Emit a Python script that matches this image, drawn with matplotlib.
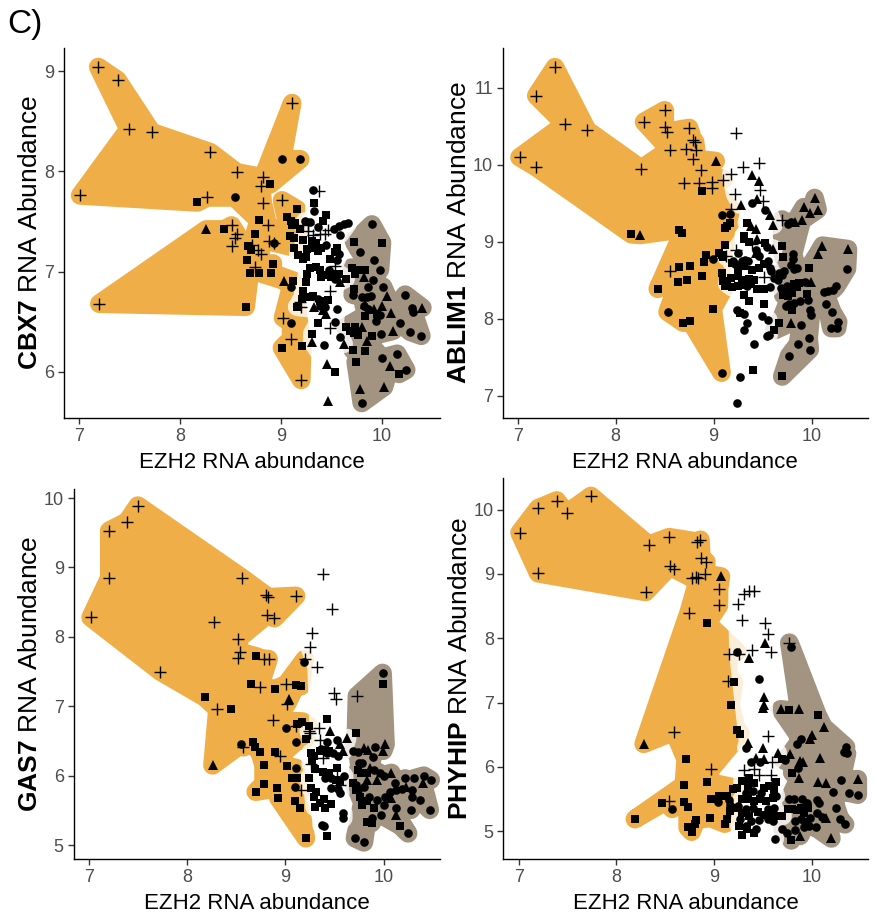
import numpy as np
import matplotlib
matplotlib.use("Agg")
import matplotlib.pyplot as plt
from matplotlib.patches import Polygon

plt.rcParams['font.family'] = ['Liberation Sans', 'DejaVu Sans']
plt.rcParams['mathtext.fontset'] = 'custom'
plt.rcParams['mathtext.rm'] = 'Liberation Sans'
plt.rcParams['mathtext.bf'] = 'Liberation Sans:bold'

# each sample: (EZH2 abundance, gene abundance, subtype marker)
# p = plus, s = square, o = circle, t = triangle
CBX7_LOW = [
    (7.19, 9.04, 'p'), (7.38, 8.91, 'p'), (7.49, 8.42, 'p'), (7.72, 8.39, 'p'), (8.30, 8.19, 'p'),
    (8.56, 7.99, 'p'), (8.82, 7.94, 'p'), (8.80, 7.85, 'p'), (8.89, 7.87, 's'), (7.01, 7.76, 'p'),
    (8.17, 7.69, 's'), (8.27, 7.74, 'p'), (8.54, 7.74, 'o'), (8.82, 7.68, 'p'), (8.78, 7.51, 's'),
    (8.87, 7.46, 'p'), (8.26, 7.42, 't'), (8.44, 7.42, 's'), (8.51, 7.46, 'p'), (8.74, 7.38, 's'),
    (8.56, 7.38, 'p'), (9.11, 8.68, 'p'), (9.01, 8.12, 'o'), (9.19, 8.12, 'o'), (9.01, 7.71, 'p'),
    (9.16, 7.62, 's'), (9.06, 7.54, 's'), (9.10, 7.50, 's'), (9.14, 7.48, 's'), (9.11, 7.46, 's'),
    (9.19, 7.42, 's'), (8.54, 7.34, 'p'), (8.51, 7.26, 'p'), (8.67, 7.26, 's'), (8.70, 7.22, 's'),
    (8.71, 7.27, 'p'), (8.77, 7.22, 'p'), (8.80, 7.18, 'p'), (8.88, 7.31, 'p'), (8.93, 7.29, 'p'),
    (8.93, 7.29, 'o'), (9.09, 7.36, 's'), (9.13, 7.34, 's'), (9.13, 7.24, 's'), (8.66, 7.12, 's'),
    (8.74, 7.05, 'p'), (8.69, 6.99, 's'), (8.78, 6.99, 's'), (8.90, 6.99, 's'), (8.92, 7.08, 's'),
    (9.03, 6.91, 't'), (9.12, 6.91, 's'), (9.10, 6.85, 'o'), (8.65, 6.65, 's'), (9.02, 6.54, 'p'),
    (9.10, 6.49, 'o'), (9.10, 6.33, 'p'), (9.01, 6.24, 's'), (9.21, 6.26, 's'), (9.20, 5.92, 'p'),
    (7.20, 6.68, 'p'),
]
CBX7_MID = [
    (9.32, 7.81, 'o'), (9.38, 7.80, 'p'), (9.33, 7.68, 's'), (9.33, 7.60, 'o'), (9.45, 7.56, 's'),
    (9.42, 7.50, 's'), (9.29, 7.49, 'o'), (9.24, 7.50, 'o'), (9.27, 7.47, 'p'), (9.22, 7.465, 'p'),
    (9.37, 7.44, 'o'), (9.27, 7.40, 'p'), (9.32, 7.37, 'p'), (9.39, 7.38, 'p'), (9.44, 7.38, 'p'),
    (9.47, 7.41, 'p'), (9.52, 7.42, 'o'), (9.57, 7.45, 'o'), (9.58, 7.37, 'o'), (9.66, 7.48, 'o'),
    (9.62, 7.47, 'o'), (9.31, 7.31, 's'), (9.22, 7.32, 's'), (9.35, 7.29, 's'), (9.40, 7.24, 's'),
    (9.34, 7.24, 's'), (9.37, 7.21, 's'), (9.26, 7.23, 's'), (9.17, 7.17, 's'), (9.25, 7.15, 's'),
    (9.22, 7.13, 's'), (9.45, 7.27, 'o'), (9.55, 7.24, 's'), (9.53, 7.20, 's'), (9.57, 7.18, 'o'),
    (9.55, 7.12, 'o'), (9.49, 7.13, 's'), (9.53, 7.06, 'p'), (9.29, 7.04, 's'), (9.26, 6.98, 's'),
    (9.35, 7.05, 's'), (9.39, 7.02, 's'), (9.40, 6.95, 's'), (9.43, 6.97, 's'), (9.47, 6.97, 's'),
    (9.50, 6.95, 's'), (9.53, 6.98, 's'), (9.48, 7.02, 'o'), (9.53, 6.93, 'o'), (9.57, 6.98, 's'),
    (9.64, 6.93, 's'), (9.58, 6.90, 't'), (9.25, 6.90, 's'), (9.22, 6.81, 's'), (9.49, 6.81, 'p'),
    (9.32, 6.76, 's'), (9.29, 6.75, 's'), (9.21, 6.73, 's'), (9.37, 6.73, 'o'), (9.39, 6.66, 'o'),
    (9.44, 6.65, 'o'), (9.19, 6.70, 'p'), (9.20, 6.65, 'p'), (9.16, 6.65, 's'), (9.33, 6.65, 't'),
    (9.42, 6.62, 't'), (9.45, 6.58, 't'), (9.39, 6.71, 's'), (9.47, 6.72, 's'), (9.55, 6.63, 'o'),
    (9.53, 6.50, 'o'), (9.37, 6.49, 's'), (9.49, 6.44, 'p'), (9.58, 6.35, 'o'), (9.31, 6.38, 's'),
    (9.31, 6.30, 't'), (9.43, 6.27, 'o'), (9.62, 6.28, 't'), (9.46, 6.08, 't'), (9.53, 6.00, 's'),
    (9.47, 5.71, 't'),
]
CBX7_HIGH = [
    (9.90, 7.47, 'o'), (9.72, 7.30, 's'), (10.00, 7.29, 's'), (9.78, 7.20, 'o'), (9.92, 7.12, 'o'),
    (9.70, 7.04, 's'), (9.75, 7.02, 's'), (9.83, 7.02, 's'), (9.73, 6.98, 's'), (9.98, 7.02, 'o'),
    (9.82, 6.95, 't'), (9.91, 6.92, 'o'), (9.72, 6.83, 's'), (9.86, 6.85, 'o'), (10.01, 6.85, 'o'),
    (9.71, 6.77, 'o'), (10.05, 6.76, 't'), (9.80, 6.75, 'o'), (9.85, 6.75, 'o'), (9.89, 6.76, 'o'),
    (10.23, 6.77, 'o'), (9.83, 6.68, 't'), (9.92, 6.63, 't'), (10.00, 6.66, 't'), (9.82, 6.66, 'o'),
    (9.86, 6.63, 'o'), (9.95, 6.58, 's'), (9.98, 6.57, 'o'), (10.09, 6.59, 't'), (10.30, 6.64, 'o'),
    (10.31, 6.60, 'o'), (10.40, 6.64, 't'), (9.83, 6.56, 's'), (9.94, 6.51, 'o'), (10.18, 6.49, 'o'),
    (9.64, 6.45, 's'), (9.68, 6.41, 's'), (9.72, 6.39, 's'), (9.73, 6.45, 's'), (9.80, 6.45, 't'),
    (9.76, 6.37, 's'), (9.90, 6.36, 's'), (9.85, 6.31, 't'), (9.99, 6.38, 'o'), (10.11, 6.41, 't'),
    (10.28, 6.40, 'o'), (10.39, 6.36, 'o'), (9.71, 6.22, 's'), (9.83, 6.21, 's'), (10.15, 6.18, 'o'),
    (10.00, 6.14, 'o'), (9.74, 6.10, 's'), (10.08, 6.06, 't'), (10.24, 6.02, 'o'), (10.17, 5.98, 's'),
    (9.78, 5.83, 't'), (10.02, 5.85, 't'), (9.80, 5.69, 'o'),
]

ABLIM1_LOW = [
    (7.38, 11.27, 'p'), (7.19, 10.90, 'p'), (7.48, 10.53, 'p'), (7.71, 10.45, 'p'), (7.02, 10.10, 'p'),
    (7.19, 9.97, 'p'), (8.29, 10.56, 'p'), (8.50, 10.71, 'p'), (8.50, 10.49, 'p'), (8.52, 10.43, 'p'),
    (8.75, 10.48, 'p'), (8.79, 10.32, 'p'), (8.81, 10.30, 'p'), (8.72, 10.21, 'p'), (8.82, 10.20, 'p'),
    (8.55, 10.20, 'p'), (8.79, 10.08, 'p'), (9.02, 10.05, 't'), (8.26, 9.95, 'p'), (8.87, 9.93, 'p'),
    (8.70, 9.77, 'p'), (8.85, 9.76, 'p'), (8.88, 9.66, 's'), (8.98, 9.78, 'p'), (8.98, 9.70, 'p'),
    (9.10, 9.81, 'p'), (9.08, 9.35, 'o'), (9.17, 9.36, 'o'), (9.18, 9.43, 'p'), (9.12, 9.18, 's'),
    (9.17, 9.24, 's'), (9.14, 9.20, 's'), (8.16, 9.10, 's'), (8.25, 9.09, 't'), (8.65, 9.16, 's'),
    (8.68, 9.11, 's'), (9.12, 8.96, 's'), (9.05, 8.85, 's'), (9.08, 8.83, 's'), (9.10, 8.80, 's'),
    (8.92, 8.83, 's'), (8.90, 8.74, 's'), (8.99, 8.78, 'o'), (8.65, 8.67, 's'), (8.76, 8.68, 's'),
    (8.55, 8.62, 'p'), (8.64, 8.48, 's'), (8.73, 8.50, 's'), (8.88, 8.55, 's'), (9.08, 8.59, 's'),
    (9.10, 8.49, 's'), (9.12, 8.43, 's'), (8.43, 8.39, 's'), (8.53, 8.09, 'o'), (8.99, 8.13, 's'),
    (8.69, 7.95, 's'), (8.76, 7.975, 's'), (9.08, 7.30, 'o'),
]
ABLIM1_MID = [
    (9.18, 9.88, 'p'), (9.22, 9.62, 'p'), (9.23, 10.42, 'p'), (9.30, 9.97, 'p'), (9.46, 10.03, 'p'),
    (9.39, 9.87, 't'), (9.46, 9.79, 't'), (9.47, 9.67, 'p'), (9.50, 9.53, 'p'), (9.44, 9.56, 't'),
    (9.39, 9.50, 'o'), (9.28, 9.48, 't'), (9.52, 9.41, 'o'), (9.57, 9.35, 't'), (9.61, 9.22, 't'),
    (9.34, 9.25, 's'), (9.38, 9.20, 't'), (9.43, 9.17, 't'), (9.31, 9.08, 's'), (9.31, 9.04, 's'),
    (9.39, 8.97, 'p'), (9.44, 9.04, 't'), (9.36, 9.00, 's'), (9.52, 8.99, 's'), (9.43, 8.90, 'o'),
    (9.44, 8.84, 'o'), (9.46, 8.81, 'o'), (9.43, 8.85, 't'), (9.61, 8.91, 't'), (9.23, 8.90, 'p'),
    (9.25, 8.85, 'o'), (9.54, 8.93, 'o'), (9.20, 8.75, 'o'), (9.22, 8.71, 'o'), (9.25, 8.69, 'o'),
    (9.29, 8.745, 'o'), (9.32, 8.77, 'o'), (9.35, 8.745, 'o'), (9.19, 8.72, 's'), (9.25, 8.65, 's'),
    (9.31, 8.69, 's'), (9.39, 8.64, 's'), (9.46, 8.66, 's'), (9.51, 8.71, 's'), (9.55, 8.75, 'o'),
    (9.57, 8.66, 'o'), (9.58, 8.62, 'o'), (9.51, 8.54, 'p'), (9.62, 8.53, 'o'), (9.18, 8.53, 's'),
    (9.25, 8.55, 's'), (9.29, 8.50, 's'), (9.36, 8.52, 's'), (9.41, 8.51, 's'), (9.14, 8.455, 's'),
    (9.19, 8.41, 's'), (9.25, 8.43, 's'), (9.32, 8.44, 's'), (9.38, 8.455, 's'), (9.29, 8.46, 'o'),
    (9.34, 8.43, 'o'), (9.57, 8.41, 'o'), (9.44, 8.39, 's'), (9.51, 8.385, 's'), (9.31, 8.31, 's'),
    (9.36, 8.23, 's'), (9.51, 8.195, 's'), (9.24, 8.12, 'o'), (9.31, 8.065, 'o'), (9.27, 8.08, 's'),
    (9.34, 7.95, 'o'), (9.49, 8.03, 'o'), (9.555, 7.99, 'o'), (9.31, 7.86, 'o'), (9.54, 7.78, 'o'),
    (9.56, 7.79, 'o'), (9.41, 7.67, 'o'), (9.40, 7.34, 's'), (9.27, 7.24, 'o'), (9.24, 6.90, 'o'),
    (9.13, 8.81, 'p'),
]
ABLIM1_HIGH = [
    (10.03, 9.57, 't'), (9.92, 9.45, 't'), (9.98, 9.37, 't'), (10.06, 9.42, 't'), (9.70, 9.29, 'p'),
    (9.76, 9.23, 'o'), (9.79, 9.26, 'o'), (9.83, 9.26, 't'), (9.90, 9.28, 't'), (9.70, 8.95, 's'),
    (9.81, 8.84, 'o'), (9.81, 8.775, 'o'), (9.71, 8.80, 's'), (10.11, 8.95, 't'), (10.06, 8.84, 't'),
    (10.37, 8.905, 't'), (10.36, 8.65, 'o'), (9.97, 8.66, 's'), (9.79, 8.70, 'o'), (9.82, 8.645, 'o'),
    (9.85, 8.66, 'o'), (9.67, 8.59, 'o'), (9.70, 8.57, 'o'), (9.72, 8.615, 'o'), (9.66, 8.51, 'o'),
    (9.93, 8.48, 'o'), (9.99, 8.48, 't'), (9.82, 8.455, 's'), (9.87, 8.47, 's'), (9.81, 8.41, 's'),
    (9.85, 8.41, 's'), (9.69, 8.40, 'o'), (9.72, 8.37, 'o'), (9.75, 8.42, 'o'), (9.71, 8.31, 's'),
    (9.76, 8.29, 's'), (9.80, 8.33, 's'), (9.71, 8.38, 's'), (9.95, 8.32, 's'), (9.96, 8.25, 'o'),
    (9.82, 8.21, 'o'), (9.88, 8.225, 'o'), (9.77, 8.195, 'o'), (9.74, 8.16, 'o'), (10.13, 8.35, 'o'),
    (10.17, 8.365, 'o'), (10.22, 8.38, 'o'), (10.25, 8.42, 'o'), (10.15, 8.195, 'o'), (10.21, 8.09, 'o'),
    (9.98, 8.11, 'o'), (9.99, 8.05, 'o'), (9.80, 8.11, 's'), (9.67, 7.94, 's'), (9.62, 7.85, 's'),
    (9.79, 7.95, 't'), (9.89, 7.92, 'o'), (9.97, 7.75, 'o'), (9.98, 7.60, 'o'), (9.86, 7.67, 'o'),
    (9.77, 7.52, 'o'), (10.20, 7.88, 'o'), (10.26, 7.88, 'o'), (10.27, 7.96, 'o'), (9.70, 7.25, 's'),
]

GAS7_LOW = [
    (7.50, 9.89, 'p'), (7.39, 9.66, 'p'), (7.21, 9.53, 'p'), (7.21, 8.85, 'p'), (7.02, 8.28, 'p'),
    (7.73, 7.50, 'p'), (8.28, 8.21, 'p'), (8.56, 8.85, 'p'), (8.80, 8.60, 'p'), (8.82, 8.57, 'p'),
    (9.11, 8.59, 'p'), (8.81, 8.31, 'p'), (8.89, 8.27, 'p'), (8.52, 7.97, 'p'), (8.54, 7.78, 'p'),
    (8.52, 7.69, 'p'), (8.70, 7.72, 's'), (8.78, 7.68, 'p'), (8.83, 7.68, 'p'), (9.20, 7.68, 'p'),
    (9.19, 7.64, 'o'), (8.65, 7.32, 's'), (8.74, 7.28, 'p'), (8.90, 7.25, 's'), (9.01, 7.32, 'p'),
    (9.11, 7.30, 's'), (9.16, 7.29, 's'), (8.18, 7.13, 's'), (8.31, 6.96, 'p'), (8.45, 6.96, 's'),
    (9.04, 7.10, 't'), (9.02, 7.04, 'p'), (8.88, 6.80, 'p'), (9.005, 6.68, 'o'), (9.11, 6.72, 'p'),
    (9.12, 6.75, 's'), (9.175, 6.78, 's'), (9.24, 6.72, 's'), (9.21, 6.53, 's'), (9.11, 6.49, 'o'),
    (8.55, 6.45, 'o'), (8.575, 6.41, 'p'), (8.67, 6.49, 's'), (8.69, 6.42, 's'), (8.74, 6.34, 's'),
    (8.90, 6.34, 's'), (8.95, 6.29, 'p'), (8.26, 6.15, 't'), (8.78, 6.15, 's'), (9.015, 6.14, 's'),
    (9.11, 6.11, 'o'), (9.07, 5.97, 's'), (9.12, 5.97, 's'), (9.10, 5.84, 'o'), (9.16, 5.80, 'p'),
    (8.78, 5.88, 's'), (8.70, 5.77, 's'), (8.92, 5.82, 's'), (8.93, 5.68, 's'), (9.10, 5.64, 's'),
    (9.155, 5.53, 's'), (9.21, 5.10, 's'),
]
GAS7_MID = [
    (9.38, 8.90, 'p'), (9.48, 8.40, 'p'), (9.27, 8.05, 'p'), (9.25, 7.85, 'p'), (9.32, 7.57, 'p'),
    (9.50, 7.19, 'p'), (9.52, 7.10, 'p'), (9.24, 6.64, 'p'), (9.42, 6.81, 's'), (9.34, 6.69, 'p'),
    (9.25, 6.61, 'p'), (9.35, 6.52, 'p'), (9.46, 6.64, 't'), (9.42, 6.49, 'o'), (9.53, 6.52, 'o'),
    (9.56, 6.46, 't'), (9.63, 6.54, 't'), (9.26, 6.33, 's'), (9.29, 6.28, 's'), (9.27, 6.23, 's'),
    (9.35, 6.35, 's'), (9.40, 6.37, 's'), (9.45, 6.36, 's'), (9.36, 6.38, 'o'), (9.42, 6.32, 'o'),
    (9.49, 6.32, 'o'), (9.54, 6.28, 'o'), (9.38, 6.25, 'p'), (9.26, 6.17, 'p'), (9.59, 6.36, 't'),
    (9.30, 6.09, 's'), (9.38, 6.05, 's'), (9.45, 6.04, 's'), (9.53, 6.11, 's'), (9.52, 5.94, 's'),
    (9.56, 5.93, 's'), (9.40, 5.96, 'o'), (9.47, 5.97, 'o'), (9.54, 5.81, 'o'), (9.47, 5.82, 'o'),
    (9.24, 5.96, 's'), (9.26, 5.82, 's'), (9.31, 5.77, 's'), (9.29, 5.70, 's'), (9.53, 5.98, 'p'),
    (9.56, 5.87, 'p'), (9.39, 5.66, 's'), (9.47, 5.59, 's'), (9.40, 5.53, 's'), (9.35, 5.60, 's'),
    (9.30, 5.55, 's'), (9.59, 5.46, 'o'), (9.59, 5.39, 'o'), (9.37, 5.29, 'o'), (9.39, 5.27, 'o'),
    (9.43, 5.13, 's'), (9.60, 5.99, 'o'), (9.56, 5.75, 'o'),
]
GAS7_HIGH = [
    (9.73, 7.15, 'p'), (9.99, 7.48, 'o'), (9.995, 7.32, 's'), (9.72, 6.61, 's'), (9.69, 6.36, 'o'),
    (9.74, 6.34, 'o'), (9.80, 6.40, 't'), (9.84, 6.37, 't'), (9.91, 6.42, 'o'), (10.02, 6.45, 't'),
    (9.89, 6.27, 'o'), (9.997, 6.36, 't'), (9.75, 6.19, 'o'), (9.78, 6.18, 'o'), (9.74, 6.08, 's'),
    (9.77, 6.04, 's'), (9.83, 6.04, 's'), (9.90, 6.08, 'o'), (9.96, 6.04, 'o'), (10.00, 6.00, 'o'),
    (9.86, 6.11, 't'), (10.08, 6.04, 't'), (9.83, 5.94, 't'), (9.93, 5.94, 't'), (9.72, 5.87, 'o'),
    (9.74, 5.80, 'o'), (9.80, 5.84, 'o'), (9.69, 5.89, 's'), (9.72, 5.80, 's'), (10.12, 5.89, 'o'),
    (10.22, 5.96, 'o'), (10.31, 5.96, 'o'), (10.23, 5.84, 't'), (10.40, 5.89, 't'), (10.41, 6.00, 'o'),
    (10.48, 5.94, 'o'), (9.76, 5.69, 's'), (9.83, 5.63, 's'), (9.90, 5.53, 's'), (9.78, 5.58, 's'),
    (9.85, 5.70, 'o'), (9.93, 5.65, 'o'), (10.02, 5.70, 'o'), (9.97, 5.44, 'o'), (9.88, 5.39, 'o'),
    (10.08, 5.68, 't'), (10.13, 5.44, 't'), (10.01, 5.58, 'o'), (10.13, 5.53, 'o'), (10.29, 5.70, 'o'),
    (10.28, 5.51, 'o'), (10.37, 5.65, 'o'), (10.47, 5.51, 'o'), (10.19, 5.81, 'o'), (10.29, 5.80, 'o'),
    (10.13, 5.80, 'o'), (10.07, 5.77, 'o'), (10.17, 5.28, 's'), (10.25, 5.17, 'o'), (9.83, 5.33, 's'),
    (9.88, 5.32, 's'), (9.71, 5.10, 'o'), (9.80, 5.04, 'o'),
]

PHYHIP_LOW = [
    (7.01, 9.64, 'p'), (7.20, 10.02, 'p'), (7.39, 10.14, 'p'), (7.49, 9.94, 'p'), (7.74, 10.21, 'p'),
    (7.20, 9.01, 'p'), (8.30, 8.72, 'p'), (8.33, 9.45, 'p'), (8.54, 9.57, 'p'), (8.83, 9.50, 'p'),
    (8.86, 9.53, 'p'), (8.55, 9.12, 'p'), (8.59, 9.08, 'p'), (8.87, 9.24, 'p'), (8.92, 9.19, 'p'),
    (8.77, 8.94, 'p'), (8.81, 8.95, 'p'), (8.84, 8.93, 'p'), (8.91, 9.00, 'p'), (9.07, 8.96, 't'),
    (9.05, 8.76, 'p'), (9.05, 8.51, 'p'), (8.74, 8.40, 'p'), (8.93, 8.235, 's'), (9.235, 7.79, 'o'),
    (9.15, 7.75, 'p'), (9.14, 7.33, 'p'), (9.20, 7.32, 's'), (9.17, 6.96, 's'), (8.59, 6.55, 'p'),
    (8.28, 6.36, 't'), (9.23, 6.57, 's'), (9.27, 6.52, 's'), (8.71, 6.12, 's'), (8.97, 5.97, 'p'),
    (8.93, 5.77, 's'), (8.69, 5.72, 's'), (8.47, 5.435, 's'), (8.69, 5.46, 's'), (8.73, 5.38, 's'),
    (8.54, 5.47, 'p'), (8.57, 5.35, 'o'), (8.97, 5.51, 's'), (9.05, 5.55, 's'), (9.13, 5.55, 's'),
    (9.19, 5.65, 's'), (9.23, 5.67, 's'), (9.04, 5.45, 'o'), (9.15, 5.48, 'o'), (9.16, 5.41, 'o'),
    (9.20, 5.37, 's'), (9.16, 5.32, 's'), (8.96, 5.21, 's'), (9.13, 5.19, 's'), (9.11, 5.12, 's'),
    (8.82, 5.18, 's'), (8.73, 5.06, 's'), (8.77, 4.995, 's'), (8.19, 5.19, 's'), (8.80, 5.12, 's'),
]
PHYHIP_MID = [
    (9.24, 8.53, 'p'), (9.25, 7.76, 'p'), (9.29, 8.29, 'p'), (9.31, 8.69, 'p'), (9.36, 8.73, 'p'),
    (9.41, 8.74, 'p'), (9.52, 8.24, 'p'), (9.55, 8.07, 'p'), (9.58, 7.79, 'p'), (9.36, 7.69, 't'),
    (9.39, 7.82, 'p'), (9.52, 7.92, 't'), (9.46, 7.36, 'o'), (9.51, 7.08, 't'), (9.50, 6.92, 't'),
    (9.51, 6.97, 't'), (9.55, 6.48, 'p'), (9.35, 6.38, 't'), (9.50, 6.30, 't'), (9.33, 6.30, 'o'),
    (9.43, 6.14, 't'), (9.51, 6.13, 't'), (9.65, 6.22, 't'), (9.38, 6.08, 'o'), (9.47, 6.08, 'o'),
    (9.59, 6.08, 'p'), (9.31, 5.96, 'p'), (9.41, 5.97, 'p'), (9.46, 5.87, 'p'), (9.58, 5.87, 'p'),
    (9.36, 5.83, 's'), (9.29, 5.78, 's'), (9.35, 5.70, 's'), (9.41, 5.745, 's'), (9.51, 5.68, 's'),
    (9.56, 5.70, 's'), (9.63, 5.77, 's'), (9.61, 5.64, 's'), (9.33, 5.60, 'o'), (9.40, 5.625, 'o'),
    (9.48, 5.60, 'o'), (9.63, 5.55, 'o'), (9.29, 5.50, 's'), (9.35, 5.51, 's'), (9.41, 5.47, 's'),
    (9.47, 5.50, 's'), (9.53, 5.47, 's'), (9.60, 5.52, 's'), (9.24, 5.39, 'o'), (9.33, 5.35, 'o'),
    (9.40, 5.37, 'o'), (9.55, 5.34, 'o'), (9.61, 5.37, 'o'), (9.29, 5.29, 's'), (9.36, 5.24, 's'),
    (9.45, 5.30, 's'), (9.51, 5.25, 's'), (9.58, 5.29, 's'), (9.63, 5.24, 's'), (9.70, 5.24, 's'),
    (9.27, 5.19, 'o'), (9.38, 5.16, 'o'), (9.46, 5.18, 'o'), (9.55, 5.19, 'o'), (9.60, 5.16, 'o'),
    (9.26, 5.08, 's'), (9.34, 5.03, 's'), (9.41, 4.98, 's'), (9.29, 4.95, 's'), (9.33, 5.08, 'o'),
    (9.43, 5.03, 'o'), (9.62, 4.88, 'o'),
]
PHYHIP_HIGH = [
    (9.77, 7.93, 'p'), (9.79, 7.86, 'o'), (9.68, 6.895, 't'), (9.87, 6.90, 't'), (9.77, 6.88, 's'),
    (10.06, 6.80, 's'), (10.12, 6.62, 't'), (10.00, 6.49, 't'), (9.98, 6.43, 't'), (9.89, 6.43, 'o'),
    (9.85, 6.35, 'o'), (10.35, 6.31, 'o'), (10.33, 6.23, 'o'), (10.36, 6.21, 'o'), (9.78, 6.20, 't'),
    (9.88, 6.09, 't'), (9.91, 6.08, 't'), (10.08, 6.14, 't'), (9.73, 6.11, 'o'), (9.86, 5.99, 'o'),
    (9.70, 6.12, 's'), (9.80, 5.91, 's'), (9.87, 5.83, 't'), (10.06, 5.77, 't'), (10.15, 5.75, 't'),
    (10.47, 5.81, 't'), (10.30, 5.79, 'o'), (10.22, 5.61, 'o'), (10.38, 5.60, 'o'), (10.47, 5.57, 'o'),
    (9.77, 5.51, 'o'), (9.82, 5.50, 'o'), (9.90, 5.50, 'o'), (9.95, 5.445, 'o'), (10.05, 5.49, 'o'),
    (10.07, 5.445, 'o'), (10.25, 5.37, 'o'), (9.76, 5.35, 's'), (9.80, 5.34, 's'), (9.85, 5.33, 's'),
    (9.89, 5.37, 's'), (9.96, 5.37, 's'), (9.92, 5.29, 's'), (10.05, 5.29, 'o'), (10.10, 5.23, 'o'),
    (9.985, 5.21, 'o'), (9.89, 5.19, 'o'), (9.83, 5.16, 'o'), (10.15, 5.21, 't'), (10.29, 5.19, 'o'),
    (10.34, 5.11, 'o'), (9.70, 5.04, 'o'), (9.75, 4.98, 'o'), (9.83, 5.02, 'o'), (9.92, 5.06, 'o'),
    (10.04, 5.06, 'o'), (9.88, 4.93, 't'), (10.20, 4.89, 't'), (9.79, 4.86, 's'), (9.93, 5.14, 'o'),
    (9.97, 5.08, 'o'),
]

GENES = ['CBX7', 'ABLIM1', 'GAS7', 'PHYHIP']
GROUPS = {
    'CBX7': (CBX7_LOW, CBX7_MID, CBX7_HIGH),
    'ABLIM1': (ABLIM1_LOW, ABLIM1_MID, ABLIM1_HIGH),
    'GAS7': (GAS7_LOW, GAS7_MID, GAS7_HIGH),
    'PHYHIP': (PHYHIP_LOW, PHYHIP_MID, PHYHIP_HIGH),
}
YTICKS = {
    'CBX7': [6, 7, 8, 9],
    'ABLIM1': [7, 8, 9, 10, 11],
    'GAS7': [5, 6, 7, 8, 9, 10],
    'PHYHIP': [5, 6, 7, 8, 9, 10],
}
XLIM = (6.845, 10.575)
YLIM = {
    'CBX7': (5.54, 9.23),
    'ABLIM1': (6.71, 11.52),
    'GAS7': (4.80, 10.13),
    'PHYHIP': (4.57, 10.49),
}
CONCAVITY = {'CBX7': 0.7, 'ABLIM1': 1.0, 'GAS7': 1.0, 'PHYHIP': 1.0}

HULL_COLORS = ['#EFAE47', '#FFFFFF', '#A39482']
MARKERS = {'p': ('+', 9.0), 's': ('s', 5.6), 'o': ('o', 6.2), 't': ('^', 7.0)}

W, H = 876, 914
# panel boxes in pixels: left, top, right, bottom
BOXES = {
    'CBX7': (63.5, 48, 440, 418),
    'ABLIM1': (502.5, 48, 868, 418),
    'GAS7': (73.5, 489, 440, 859),
    'PHYHIP': (503.5, 478, 868, 859),
}


def seg_d2(p, a, b):
    ab = b - a
    t = 0.0
    den = ab @ ab
    if den > 0:
        t = min(1.0, max(0.0, ((p - a) @ ab) / den))
    q = a + t * ab
    return float((p - q) @ (p - q))


def orient(a, b, c):
    return (b[0] - a[0]) * (c[1] - a[1]) - (b[1] - a[1]) * (c[0] - a[0])


def crosses(p1, q1, p2, q2):
    return ((orient(p1, q1, p2) > 0) != (orient(p1, q1, q2) > 0) and
            (orient(p2, q2, p1) > 0) != (orient(p2, q2, q1) > 0))


def concave_hull(pts, concavity=1.0):
    # concaveman-style digging, starting from the convex hull
    n = len(pts)
    order = sorted(range(n), key=lambda i: (pts[i][0], pts[i][1]))
    lower, upper = [], []
    for i in order:
        while len(lower) >= 2 and orient(pts[lower[-2]], pts[lower[-1]], pts[i]) <= 0:
            lower.pop()
        lower.append(i)
    for i in reversed(order):
        while len(upper) >= 2 and orient(pts[upper[-2]], pts[upper[-1]], pts[i]) <= 0:
            upper.pop()
        upper.append(i)
    hull = lower[:-1] + upper[:-1]
    nxt = {hull[k]: hull[(k + 1) % len(hull)] for k in range(len(hull))}
    prv = {v: k for k, v in nxt.items()}
    free = set(range(n)) - set(hull)
    queue = list(hull)
    sqc = concavity ** 2

    def clear(u, v):
        for s, t in nxt.items():
            if s in (u, v) or t in (u, v):
                continue
            if crosses(pts[s], pts[t], pts[u], pts[v]):
                return False
        return True

    while queue:
        a = queue.pop(0)
        b = nxt[a]
        pa, pb = pts[a], pts[b]
        maxd = float((pb - pa) @ (pb - pa)) / sqc
        cands = sorted((seg_d2(pts[p], pa, pb), p) for p in free)
        best = None
        for d, p in cands:
            if d > maxd:
                break
            if (d < seg_d2(pts[p], pts[prv[a]], pa) and d < seg_d2(pts[p], pb, pts[nxt[b]])
                    and clear(a, p) and clear(p, b)):
                best = p
                break
        if best is None:
            continue
        pp = pts[best]
        if min((pp - pa) @ (pp - pa), (pp - pb) @ (pp - pb)) <= maxd:
            nxt[a] = best
            prv[best] = a
            nxt[best] = b
            prv[b] = best
            free.discard(best)
            queue.append(a)
            queue.append(best)
    ring = [hull[0]]
    while nxt[ring[-1]] != hull[0]:
        ring.append(nxt[ring[-1]])
    return ring


def fade(alpha):
    def _f(img, dpi):
        out = img.copy()
        out[..., 3] *= alpha
        return out, 0, 0
    return _f


fig = plt.figure(figsize=(W / 100, H / 100), dpi=100)
fig.text(7 / W, 1 - 24 / H, 'C)', fontsize=24, ha='left', va='center', color='black')

for gene in GENES:
    l, t, r, b = BOXES[gene]
    ax = fig.add_axes([l / W, 1 - b / H, (r - l) / W, (b - t) / H])
    groups = GROUPS[gene]
    ax.set_xlim(*XLIM)
    ax.set_ylim(*YLIM[gene])

    # hull fills: low, high first, then the translucent middle group on top
    for gi in (0, 2, 1):
        g = groups[gi]
        xy = np.array([[p[0], p[1]] for p in g])
        disp = ax.transData.transform(xy)
        ring = concave_hull(disp, CONCAVITY[gene])
        poly = Polygon(xy[ring], closed=True, facecolor=HULL_COLORS[gi],
                       edgecolor=HULL_COLORS[gi], linewidth=13.5, joinstyle='round',
                       zorder=1 + gi * 0.1)
        if gi == 1:
            poly.set_agg_filter(fade(0.8))
            poly.set_zorder(1.5)
        ax.add_patch(poly)

    for g in groups:
        for code, (mk, ms) in MARKERS.items():
            xs = [p[0] for p in g if p[2] == code]
            ys = [p[1] for p in g if p[2] == code]
            if not xs:
                continue
            if code == 'p':
                ax.plot(xs, ys, linestyle='none', marker=mk, markersize=ms,
                        markeredgewidth=1.0, color='black', zorder=3)
            else:
                ax.plot(xs, ys, linestyle='none', marker=mk, markersize=ms,
                        markeredgewidth=0, color='black', zorder=3)

    ax.set_xticks([7, 8, 9, 10])
    ax.set_yticks(YTICKS[gene])
    for side in ('top', 'right'):
        ax.spines[side].set_visible(False)
    for side in ('left', 'bottom'):
        ax.spines[side].set_linewidth(1.0)
        ax.spines[side].set_color('black')
    ax.tick_params(length=4, width=1.0, color='#333333', labelcolor='#4D4D4D',
                   labelsize=13, pad=3)
    ax.set_xlabel('EZH2 RNA abundance', fontsize=16, labelpad=5)
    ax.set_ylabel(r'$\mathbf{' + gene + r'}$ RNA Abundance', fontsize=19, labelpad=1)

fig.savefig('out.png', dpi=100)
